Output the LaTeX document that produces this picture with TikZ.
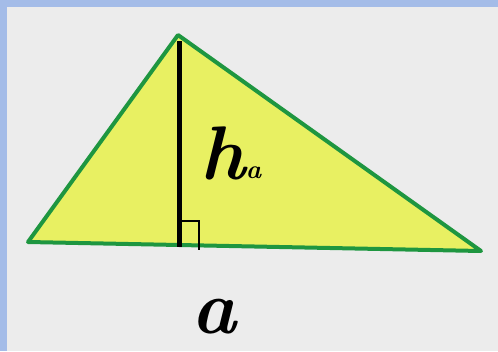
\documentclass[tikz,border=0pt]{standalone}
\usepackage{amsmath}
\usepackage{xcolor}
\usepackage{tikz}
\usetikzlibrary{positioning,calc}

\definecolor{frameblue}{RGB}{164,188,232}
\definecolor{paper}{RGB}{236,236,236}
\definecolor{trifill}{RGB}{232,240,98}
\definecolor{triedge}{RGB}{30,150,64}

\tikzset{
  triside/.style={draw=triedge,line width=4pt,line join=round,fill=trifill},
  altitude/.style={line width=5pt},
  rightmark/.style={line width=1.1pt},
  biglabel/.style={inner sep=0pt,font=\fontsize{76}{76}\selectfont\bfseries\itshape},
  sublabel/.style={inner sep=0pt,font=\fontsize{26}{26}\selectfont\bfseries\itshape}
}

\begin{document}
\begin{tikzpicture}[x=1pt,y=-1pt]
% background and frame
\fill[frameblue] (0,0) rectangle (498,351);
\fill[paper] (7,7) rectangle (498,351);
\useasboundingbox (0,0) rectangle (498,351);

% vertices
\coordinate (A) at (28,242);
\coordinate (B) at (481,251);
\coordinate (C) at (178,35);
\coordinate (H) at (179,247);

\draw[triside] (A) -- (B) -- (C) -- cycle;
\draw[altitude] ($(C)+(1,6)$) -- (H);
\draw[rightmark] ($(H)+(2,-26)$) -- ++(18,0) -- ++(0,29);

% labels
\node[biglabel,anchor=base] (hlabel) at (223,179) {h};
\node[sublabel,anchor=base west] (hsub) at ($(hlabel.base east)+(0,-1)$) {a};
\node[biglabel,anchor=base] (alabel) at (214,333) {a};
\end{tikzpicture}
\end{document}
